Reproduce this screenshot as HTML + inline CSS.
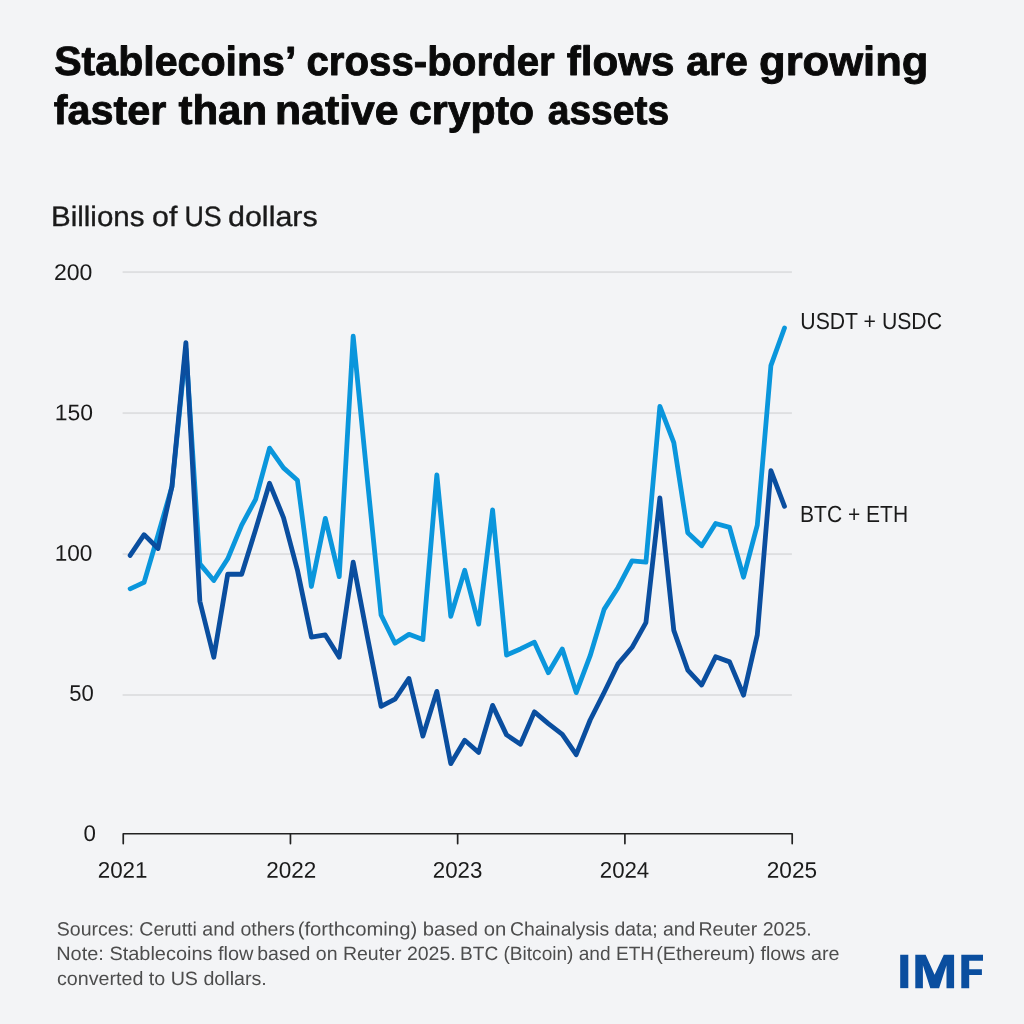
<!DOCTYPE html>
<html lang="en">
<head>
<meta charset="utf-8">
<title>Stablecoins' cross-border flows are growing faster than native crypto assets</title>
<style>
html,body{margin:0;padding:0;background:#f3f4f6;}
body{width:1024px;height:1024px;overflow:hidden;font-family:"Liberation Sans",sans-serif;}
svg{display:block;will-change:transform;}
text{font-family:"Liberation Sans",sans-serif;}
.title{font-weight:700;fill:#0a0a0a;stroke:#0a0a0a;stroke-width:0.9px;stroke-linejoin:round;}
.txt{fill:#1a1a1a;}
.sub{fill:#1a1a1a;stroke:#1a1a1a;stroke-width:0.35px;}
.foot{fill:#4d4d4d;}
</style>
</head>
<body>
<svg width="1024" height="1024" viewBox="0 0 1024 1024">
<rect x="0" y="0" width="1024" height="1024" fill="#f3f4f6"/>
<g id="grid">
<rect x="122.6" y="271.15" width="669.3" height="1.9" fill="#dedfe1"/>
<rect x="122.6" y="412.15" width="669.3" height="1.9" fill="#dedfe1"/>
<rect x="122.6" y="553.15" width="669.3" height="1.9" fill="#dedfe1"/>
<rect x="122.6" y="694.05" width="669.3" height="1.9" fill="#dedfe1"/>
</g>
<path id="usdt-usdc" d="M130.15,588.86 L144.09,582.40 L158.03,534.95 L171.97,486.65 L185.91,348.78 L199.85,563.87 L213.79,580.58 L227.73,558.82 L241.67,525.12 L255.61,499.29 L269.55,448.18 L283.49,467.84 L297.43,480.19 L311.37,586.47 L325.31,518.38 L339.25,576.65 L353.19,336.14 L367.13,477.38 L381.07,614.98 L395.01,643.20 L408.95,634.35 L422.89,639.55 L436.83,474.86 L450.77,616.24 L464.71,570.33 L478.65,624.10 L492.59,509.96 L506.53,655.13 L520.47,648.95 L534.41,642.21 L548.35,672.68 L562.29,648.95 L576.23,692.62 L590.17,655.69 L604.11,609.36 L618.05,587.46 L631.99,560.78 L645.93,562.19 L659.87,406.34 L673.81,442.56 L687.75,532.70 L701.69,545.76 L715.63,523.44 L729.57,527.37 L743.51,577.21 L757.30,525.12 L770.90,365.63 L784.50,328.00" fill="none" stroke="#0a96dc" stroke-width="4.8" stroke-linejoin="round" stroke-linecap="round"/>
<path id="btc-eth" d="M130.15,555.45 L144.09,534.67 L158.03,548.57 L171.97,486.37 L185.91,342.60 L199.85,601.22 L213.79,657.24 L227.73,574.26 L241.67,574.26 L255.61,529.61 L269.55,483.28 L283.49,517.54 L297.43,570.05 L311.37,637.02 L325.31,634.91 L339.25,657.24 L353.19,562.19 L367.13,635.47 L381.07,706.38 L395.01,699.22 L408.95,678.44 L422.89,736.14 L436.83,691.35 L450.77,763.66 L464.71,740.21 L478.65,752.43 L492.59,705.39 L506.53,734.88 L520.47,744.28 L534.41,711.85 L548.35,723.65 L562.29,734.32 L576.23,754.67 L590.17,720.00 L604.11,692.48 L618.05,663.84 L631.99,647.55 L645.93,622.56 L659.87,497.88 L673.81,630.42 L687.75,670.01 L701.69,685.04 L715.63,656.82 L729.57,661.87 L743.51,695.14 L757.30,634.91 L770.90,470.64 L784.50,506.31" fill="none" stroke="#0a4e9f" stroke-width="4.8" stroke-linejoin="round" stroke-linecap="round"/>
<path d="M123.25,843.6 V833.75 H792.2 V843.6" fill="none" stroke="#222222" stroke-width="1.7" stroke-linejoin="round" stroke-linecap="round"/>
<path d="M290.45,833.75 V843.6" fill="none" stroke="#222222" stroke-width="1.7" stroke-linecap="round"/>
<path d="M457.65,833.75 V843.6" fill="none" stroke="#222222" stroke-width="1.7" stroke-linecap="round"/>
<path d="M624.9,833.75 V843.6" fill="none" stroke="#222222" stroke-width="1.7" stroke-linecap="round"/>
<g id="labels">
<text class="title" x="54.20" y="75.1" transform="rotate(0.03 54.20 75.1)" font-size="41" textLength="242.13" lengthAdjust="spacingAndGlyphs">Stablecoins’</text>
<text class="title" x="306.48" y="75.1" transform="rotate(0.03 306.48 75.1)" font-size="41" textLength="248.23" lengthAdjust="spacingAndGlyphs">cross-border</text>
<text class="title" x="566.68" y="75.1" transform="rotate(0.03 566.68 75.1)" font-size="41" textLength="107.72" lengthAdjust="spacingAndGlyphs">flows</text>
<text class="title" x="686.20" y="75.1" transform="rotate(0.03 686.20 75.1)" font-size="41" textLength="61.67" lengthAdjust="spacingAndGlyphs">are</text>
<text class="title" x="759.09" y="75.1" transform="rotate(0.03 759.09 75.1)" font-size="41" textLength="169.30" lengthAdjust="spacingAndGlyphs">growing</text>
<text class="title" x="53.69" y="124.1" transform="rotate(0.03 53.69 124.1)" font-size="41" textLength="112.53" lengthAdjust="spacingAndGlyphs">faster</text>
<text class="title" x="178.44" y="124.1" transform="rotate(0.03 178.44 124.1)" font-size="41" textLength="88.72" lengthAdjust="spacingAndGlyphs">than</text>
<text class="title" x="275.08" y="124.1" transform="rotate(0.03 275.08 124.1)" font-size="41" textLength="123.53" lengthAdjust="spacingAndGlyphs">native</text>
<text class="title" x="408.95" y="124.1" transform="rotate(0.03 408.95 124.1)" font-size="41" textLength="125.16" lengthAdjust="spacingAndGlyphs">crypto</text>
<text class="title" x="547.76" y="124.1" transform="rotate(0.03 547.76 124.1)" font-size="41" textLength="121.38" lengthAdjust="spacingAndGlyphs">assets</text>
<text class="sub" x="51.00" y="225.9" transform="rotate(0.03 51.00 225.9)" font-size="28" textLength="93.43" lengthAdjust="spacingAndGlyphs">Billions</text>
<text class="sub" x="152.12" y="225.9" transform="rotate(0.03 152.12 225.9)" font-size="28" textLength="25.26" lengthAdjust="spacingAndGlyphs">of</text>
<text class="sub" x="184.52" y="225.9" transform="rotate(0.03 184.52 225.9)" font-size="28" textLength="37.22" lengthAdjust="spacingAndGlyphs">US</text>
<text class="sub" x="228.01" y="225.9" transform="rotate(0.03 228.01 225.9)" font-size="28" textLength="89.69" lengthAdjust="spacingAndGlyphs">dollars</text>
<text class="txt" x="53.93" y="279.9" transform="rotate(0.03 53.93 279.9)" font-size="22.6" textLength="38.45" lengthAdjust="spacingAndGlyphs">200</text>
<text class="txt" x="54.73" y="420.3" transform="rotate(0.03 54.73 420.3)" font-size="22.6" textLength="38.24" lengthAdjust="spacingAndGlyphs">150</text>
<text class="txt" x="54.65" y="560.8" transform="rotate(0.03 54.65 560.8)" font-size="22.6" textLength="37.70" lengthAdjust="spacingAndGlyphs">100</text>
<text class="txt" x="69.22" y="700.8" transform="rotate(0.03 69.22 700.8)" font-size="22.6" textLength="24.55" lengthAdjust="spacingAndGlyphs">50</text>
<text class="txt" x="83.61" y="841.0" transform="rotate(0.03 83.61 841.0)" font-size="22.6" textLength="12.40" lengthAdjust="spacingAndGlyphs">0</text>
<text class="txt" x="97.76" y="877.85" transform="rotate(0.03 97.76 877.85)" font-size="22.6" textLength="49.74" lengthAdjust="spacingAndGlyphs">2021</text>
<text class="txt" x="266.26" y="877.85" transform="rotate(0.03 266.26 877.85)" font-size="22.6" textLength="50.00" lengthAdjust="spacingAndGlyphs">2022</text>
<text class="txt" x="432.77" y="877.85" transform="rotate(0.03 432.77 877.85)" font-size="22.6" textLength="49.53" lengthAdjust="spacingAndGlyphs">2023</text>
<text class="txt" x="599.77" y="877.85" transform="rotate(0.03 599.77 877.85)" font-size="22.6" textLength="49.48" lengthAdjust="spacingAndGlyphs">2024</text>
<text class="txt" x="766.75" y="877.85" transform="rotate(0.03 766.75 877.85)" font-size="22.6" textLength="50.27" lengthAdjust="spacingAndGlyphs">2025</text>
<text class="txt" x="800.31" y="329.4" transform="rotate(0.03 800.31 329.4)" font-size="23.3" textLength="141.73" lengthAdjust="spacingAndGlyphs">USDT + USDC</text>
<text class="txt" x="800.10" y="522.3" transform="rotate(0.03 800.10 522.3)" font-size="23.3" textLength="108.01" lengthAdjust="spacingAndGlyphs">BTC + ETH</text>
<text class="foot" x="56.74" y="935.5" transform="rotate(0.03 56.74 935.5)" font-size="19.3" textLength="237.99" lengthAdjust="spacingAndGlyphs">Sources: Cerutti and others</text>
<text class="foot" x="297.68" y="935.5" transform="rotate(0.03 297.68 935.5)" font-size="19.3" textLength="208.66" lengthAdjust="spacingAndGlyphs">(forthcoming) based on</text>
<text class="foot" x="509.99" y="935.5" transform="rotate(0.03 509.99 935.5)" font-size="19.3" textLength="185.37" lengthAdjust="spacingAndGlyphs">Chainalysis data; and</text>
<text class="foot" x="698.48" y="935.5" transform="rotate(0.03 698.48 935.5)" font-size="19.3" textLength="113.29" lengthAdjust="spacingAndGlyphs">Reuter 2025.</text>
<text class="foot" x="56.20" y="960" transform="rotate(0.03 56.20 960)" font-size="19.3" textLength="197.33" lengthAdjust="spacingAndGlyphs">Note: Stablecoins flow</text>
<text class="foot" x="257.24" y="960" transform="rotate(0.03 257.24 960)" font-size="19.3" textLength="198.47" lengthAdjust="spacingAndGlyphs">based on Reuter 2025.</text>
<text class="foot" x="460.02" y="960" transform="rotate(0.03 460.02 960)" font-size="19.3" textLength="194.06" lengthAdjust="spacingAndGlyphs">BTC (Bitcoin) and ETH</text>
<text class="foot" x="656.22" y="960" transform="rotate(0.03 656.22 960)" font-size="19.3" textLength="183.26" lengthAdjust="spacingAndGlyphs">(Ethereum) flows are</text>
<text class="foot" x="56.99" y="985" transform="rotate(0.03 56.99 985)" font-size="19.3" textLength="209.83" lengthAdjust="spacingAndGlyphs">converted to US dollars.</text>
</g>
<g id="imf-logo" fill="#0a4e9f">
<rect x="900.2" y="954.75" width="8.1" height="33.4"/>
<polygon points="915.3,988.15 915.3,954.75 925.6,954.75 934.6,974.7 943.8,954.75 954.1,954.75 954.1,988.15 946.5,988.15 946.5,965.3 939.1,988.15 930.3,988.15 922.9,965.3 922.9,988.15"/>
<polygon points="961.3,988.15 961.3,954.75 983,954.75 983,960.8 969.2,960.8 969.2,969.2 981.9,969.2 981.9,975 969.2,975 969.2,988.15"/>
</g>
</svg>
</body>
</html>
